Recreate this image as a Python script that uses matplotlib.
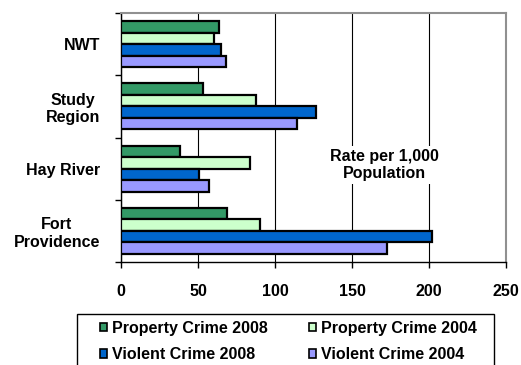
import numpy as np
import matplotlib.pyplot as plt
from matplotlib.patches import Rectangle

plt.rcParams['font.family'] = ['Liberation Sans', 'DejaVu Sans']
plt.rcParams['font.weight'] = 'bold'

regions = ['NWT', 'Study\nRegion', 'Hay River', 'Fort\nProvidence']
series = ['Property Crime 2008', 'Property Crime 2004',
          'Violent Crime 2008', 'Violent Crime 2004']
property_2008 = [63.5, 53.5, 38.5, 69]
property_2004 = [60.5, 87.5, 84, 90]
violent_2008 = [65, 126.5, 50.5, 202]
violent_2004 = [68, 114.5, 57, 173]
colors = ['#339966', '#CCFFCC', '#0066CC', '#9999FF']

values = [property_2008, property_2004, violent_2008, violent_2004]
fs = 11.5
W, H = 521, 365

fig = plt.figure(figsize=(W / 100, H / 100), dpi=100)
ax = fig.add_axes([121 / W, 103 / H, 385 / W, 249 / H])

y = np.arange(len(regions))
h = 0.185
bars = []
for i, (vals, name, col) in enumerate(zip(values, series, colors)):
    b = ax.barh(y + (i - 1.5) * h, vals, height=h, color=col,
                edgecolor='black', linewidth=1.6, label=name, zorder=3)
    bars.append(b)

ax.set_xlim(0, 250)
ax.set_ylim(3.5, -0.5)
ax.set_xticks([0, 50, 100, 150, 200, 250])
ax.tick_params(axis='x', direction='out', length=4, width=1, pad=12,
               labelsize=fs)
ax.set_yticks(y)
ax.set_yticklabels(regions, multialignment='center', fontweight='bold')
ax.set_yticks(np.arange(-0.5, 4, 1), minor=True)
ax.tick_params(axis='y', which='major', length=0, pad=15, labelsize=fs)
ax.tick_params(axis='y', which='minor', length=4, width=1, direction='out')
for lbl in ax.get_xticklabels():
    lbl.set_fontweight('bold')

ax.xaxis.grid(True, color='black', linewidth=0.8, zorder=0)
ax.set_axisbelow(True)
for s in ['top', 'right']:
    ax.spines[s].set_color('#909090')
    ax.spines[s].set_linewidth(1.5)
for s in ['left', 'bottom']:
    ax.spines[s].set_color('black')
    ax.spines[s].set_linewidth(1)

ax.text(171, 1.94, 'Rate per 1,000\nPopulation', ha='center', va='center',
        fontsize=fs, fontweight='bold', multialignment='center', zorder=4,
        bbox=dict(facecolor='white', edgecolor='none', pad=2))

# legend fills row by row: property on top, violent below
order = [0, 2, 1, 3]
leg = fig.legend([bars[i] for i in order], [series[i] for i in order],
                 loc='upper left', bbox_to_anchor=(100 / W, 1 - 320.5 / H),
                 ncol=2, frameon=False, fontsize=fs, handlelength=0.45,
                 handleheight=0.45, handletextpad=0.3, columnspacing=2.6,
                 borderpad=0, labelspacing=0.72, borderaxespad=0)
for p in leg.get_patches():
    p.set_linewidth(1.2)

# legend box, running off the bottom edge
fig.patches.append(Rectangle((77 / W, -0.02), (494 - 77) / W,
                             1 - 314 / H + 0.02, transform=fig.transFigure,
                             facecolor='none', edgecolor='black',
                             linewidth=1))

fig.savefig('out.png', dpi=100)
